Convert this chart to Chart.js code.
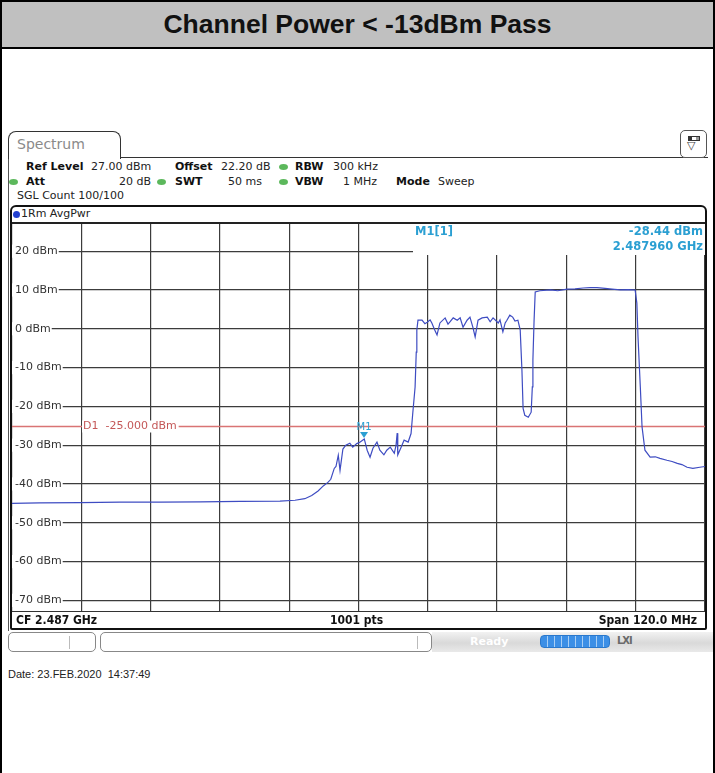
<!DOCTYPE html>
<html>
<head>
<meta charset="utf-8">
<title>Channel Power</title>
<script src="https://cdn.jsdelivr.net/npm/chart.js@4.4.1/dist/chart.umd.min.js"></script>
<style>
  body { margin: 0; width: 715px; height: 773px; background: #fff; position: relative; overflow: hidden;
         font-family: "DejaVu Sans", sans-serif; font-size: 11px; color: #222; }
  div, span { position: absolute; box-sizing: border-box; }
  #page { left: 0; top: 0; width: 715px; height: 773px; border-left: 2px solid #000; border-right: 2px solid #000; }
  #title { left: 0; top: 0; width: 715px; height: 49px; background: #c0c0c0; border: 2px solid #000;
           font: bold 26.5px "Liberation Sans", Arial, sans-serif; color: #111; text-align: center; line-height: 44px; }
  #tab { left: 8px; top: 131px; width: 113px; height: 28px; background: #fff; border: 1.5px solid #333;
         border-bottom: none; border-radius: 8px 8px 0 0; z-index: 2; }
  #tab span { left: 8px; top: 4px; font-size: 14px; color: #8a8a8a; }
  #tabline { left: 120px; top: 157px; width: 588px; height: 0; border-top: 1.5px solid #333; }
  #winleft { left: 8px; top: 157px; width: 0; height: 474px; border-left: 1.5px solid #555; }
  #icon { left: 680px; top: 130px; width: 27px; height: 28px; border: 1.5px solid #555; border-radius: 5px; background: #fff; }
  #icon .bar { left: 7px; top: 5px; width: 12px; height: 5px; border: 1px solid #333; background: #fff;
               box-shadow: inset 3px 0 0 #333, inset -3px 0 0 #999; }
  #icon .tri { left: 6px; top: 8px; font-size: 11px; color: #444; }
  .row { line-height: 13px; white-space: nowrap; }
  .b { font-weight: bold; color: #111; }
  .dot { width: 9px; height: 6px; border-radius: 50%; background: #5cb85c; }
  #frame { left: 10px; top: 205px; width: 697px; height: 425px; border: 2px solid #111; border-radius: 6px 6px 2px 2px; }
  #trhead { left: 12px; top: 222px; width: 693px; height: 0; border-top: 2px solid #222; }
  #bluedot { left: 13px; top: 211px; width: 7px; height: 7px; border-radius: 50%; background: #2340d0; }
  #chartbox { left: 12px; top: 224px; width: 693px; height: 388px; }
  #botline { left: 12px; top: 611px; width: 693px; height: 0; border-top: 1px solid #333; }
  .bot { top: 613px; font: bold 12px "DejaVu Sans Condensed", "DejaVu Sans", sans-serif; font-stretch: condensed;
         line-height: 15px; color: #111; white-space: nowrap; }
  .sbox { top: 632px; height: 20px; border: 1px solid #888; border-radius: 5px; background: #fff; }
  .sdiv { top: 3px; width: 0; height: 13px; border-left: 1px solid #bbb; }
  #sgray { left: 432px; top: 632px; width: 281px; height: 20px;
           background: linear-gradient(#f2f2f2, #d9d9d9 55%, #e9e9e9); }
  #sgray .ready { left: 38px; top: 3px; font-weight: bold; color: #fff; font-size: 11px; }
  #sblue { left: 540px; top: 635px; width: 70px; height: 13px; border-radius: 4px;
           background: repeating-linear-gradient(90deg, #3c8fe6 0 6px, #a9cff5 6px 7px); border: 1px solid #2a78cc; }
  #sicon { left: 617px; top: 635px; font: bold 10px "DejaVu Sans", sans-serif; color: #6a6a6a; letter-spacing: -1px; }
  #date { left: 8px; top: 668px; font: 11px "Liberation Sans", Arial, sans-serif; color: #222; white-space: pre; }
</style>
</head>
<body>
<div id="page"></div>
<div id="title">Channel Power &lt; -13dBm Pass</div>

<div id="winleft"></div>
<div id="tabline"></div>
<div id="tab"><span>Spectrum</span></div>
<div id="icon"><div class="bar"></div><span class="tri">▽</span></div>

<span class="row b" style="left:26px; top:160px;">Ref Level</span>
<span class="row" style="left:91px; top:160px;">27.00 dBm</span>
<span class="row b" style="left:175px; top:160px;">Offset</span>
<span class="row" style="left:221px; top:160px;">22.20 dB</span>
<span class="dot" style="left:279px; top:164px;"></span>
<span class="row b" style="left:295px; top:160px;">RBW</span>
<span class="row" style="left:333px; top:160px;">300 kHz</span>

<span class="dot" style="left:9px; top:179px;"></span>
<span class="row b" style="left:26px; top:175px;">Att</span>
<span class="row" style="right:564px; top:175px;">20 dB</span>
<span class="dot" style="left:157px; top:179px;"></span>
<span class="row b" style="left:175px; top:175px;">SWT</span>
<span class="row" style="right:453px; top:175px;">50 ms</span>
<span class="dot" style="left:279px; top:179px;"></span>
<span class="row b" style="left:295px; top:175px;">VBW</span>
<span class="row" style="right:338px; top:175px;">1 MHz</span>
<span class="row b" style="left:396px; top:175px;">Mode</span>
<span class="row" style="left:438px; top:175px;">Sweep</span>

<span class="row" style="left:17px; top:189px;">SGL Count 100/100</span>

<div id="frame"></div>
<div id="bluedot"></div>
<span class="row" style="left:21px; top:207px;">1Rm AvgPwr</span>
<div id="trhead"></div>
<div id="chartbox"><canvas id="chart"></canvas></div>
<div id="botline"></div>
<span class="bot" style="left:16px;">CF 2.487 GHz</span>
<span class="bot" style="left:330px;">1001 pts</span>
<span class="bot" style="right:18px;">Span 120.0 MHz</span>

<div class="sbox" style="left:8px; width:88px;"><div class="sdiv" style="left:60px;"></div></div>
<div class="sbox" style="left:100px; width:332px;"><div class="sdiv" style="left:316px;"></div></div>
<div id="sgray"><span class="ready">Ready</span></div>
<div id="sblue"></div>
<span id="sicon">LXI</span>

<div id="date">Date: 23.FEB.2020  14:37:49</div>

<script>
// trace (frequency in MHz, level in dBm)
const freqMHz = [
  2427.0, 2431.8, 2438.8, 2445.7, 2452.6, 2459.6, 2466.5, 2473.4, 2476.0, 2477.7,
  2478.9, 2480.0, 2480.9, 2481.7, 2482.2, 2482.8, 2483.1, 2483.5, 2483.8, 2484.3,
  2484.8, 2485.5, 2486.0, 2486.7, 2487.3, 2488.0, 2488.5, 2489.0, 2489.5, 2490.2,
  2490.7, 2491.4, 2491.9, 2492.5, 2493.2, 2493.5, 2493.7, 2493.8, 2494.4, 2494.9,
  2495.6, 2496.1, 2496.4, 2496.8, 2497.0, 2497.1, 2497.3, 2498.0, 2498.5, 2498.9,
  2499.4, 2499.7, 2500.2, 2500.6, 2501.1, 2502.0, 2502.5, 2502.8, 2503.4, 2504.1,
  2504.6, 2505.1, 2505.8, 2506.3, 2506.8, 2507.2, 2507.7, 2508.4, 2509.3, 2509.8,
  2510.3, 2511.2, 2511.5, 2511.8, 2512.0, 2512.4, 2512.7, 2513.2, 2513.7, 2514.1,
  2514.6, 2515.0, 2515.3, 2515.5, 2515.8, 2516.4, 2516.9, 2517.1, 2517.2, 2517.4,
  2517.6, 2518.4, 2520.2, 2521.5, 2523.1, 2524.5, 2525.9, 2527.1, 2528.3, 2529.7,
  2530.9, 2532.3, 2533.7, 2534.9, 2535.2, 2535.4, 2535.8, 2536.1, 2536.6, 2537.5,
  2538.4, 2539.2, 2540.4, 2541.3, 2542.2, 2543.0, 2543.9, 2544.9, 2546.1, 2547.0
];
const levelDbm = [
  -45.0, -44.9, -44.8, -44.7, -44.7, -44.6, -44.5, -44.4, -44.2, -43.8,
  -43.0, -41.8, -40.5, -39.6, -38.8, -36.0, -35.5, -32.6, -36.5, -31.0,
  -30.0, -29.5, -30.5, -29.6, -29.2, -28.4, -31.3, -33.1, -30.8, -29.2,
  -31.3, -32.5, -31.3, -30.5, -32.1, -30.0, -26.9, -32.5, -30.5, -28.7,
  -29.2, -27.0, -21.7, -15.0, -6.0, -0.3, 2.2, 2.2, 1.3, 1.7,
  2.3, 1.5, -0.3, -1.6, 1.5, 2.8, 1.2, 1.7, 2.8, 2.2,
  2.8, 0.4, 2.2, 3.0, 0.4, -2.1, 2.2, 2.8, 3.0, 1.8,
  2.8, 1.5, 2.3, 0.4, -0.8, 1.5, 2.2, 3.5, 3.0, 2.0,
  2.2, -0.3, -10.7, -20.5, -22.3, -22.8, -21.5, -15.0, -8.0, 2.0,
  9.5, 9.8, 10.0, 9.8, 10.2, 10.3, 10.5, 10.6, 10.6, 10.4,
  10.2, 10.0, 10.1, 10.0, 6.6, -2.1, -15.0, -25.3, -31.3, -33.1,
  -33.0, -33.4, -33.9, -34.2, -34.7, -35.0, -35.7, -36.0, -35.7, -35.5
];

// axes: CF 2.487 GHz, span 120 MHz, ref level 27 dBm, 10 dB/div
const xMin = 2427;
const xMax = 2547;
const xTicks = [2427, 2439, 2451, 2463, 2475, 2487, 2499, 2511, 2523, 2535, 2547];
const yMin = -73;
const yMax = 27;
const yTicks = [20, 10, 0, -10, -20, -30, -40, -50, -60, -70];

// display line and marker
const d1Level = -25;
const d1Label = "D1  -25.000 dBm";
const m1Freq = 2487.96;
const m1Level = -28.44;
const m1Readout = ["M1[1]", "-28.44 dBm", "2.487960 GHz"];

const markerColor = "#2b9fd2";

const overlay = {
  id: "overlay",
  beforeDatasetsDraw(chart) {
    const { ctx, chartArea, scales } = chart;
    ctx.save();
    // marker readout area hides the grid below it
    ctx.fillStyle = "#fff";
    ctx.fillRect(chartArea.right - 292, chartArea.top, 292, 31);

    // D1 display line
    const dy = Math.round(scales.y.getPixelForValue(d1Level)) + 0.5;
    ctx.strokeStyle = "#d97474";
    ctx.lineWidth = 1.5;
    ctx.beginPath();
    ctx.moveTo(chartArea.left, dy);
    ctx.lineTo(chartArea.right, dy);
    ctx.stroke();
    ctx.font = "11px 'DejaVu Sans'";
    const w = ctx.measureText(d1Label).width;
    ctx.fillStyle = "#fff";
    ctx.fillRect(chartArea.left + 70, dy - 6, w + 3, 12);
    ctx.fillStyle = "#c45858";
    ctx.textBaseline = "middle";
    ctx.fillText(d1Label, chartArea.left + 71, dy);
    ctx.restore();
  },
  afterDatasetsDraw(chart) {
    const { ctx, chartArea, scales } = chart;
    ctx.save();
    const mx = scales.x.getPixelForValue(m1Freq);
    const my = scales.y.getPixelForValue(m1Level);
    ctx.fillStyle = markerColor;
    ctx.beginPath();
    ctx.moveTo(mx - 4, my - 7);
    ctx.lineTo(mx + 4, my - 7);
    ctx.lineTo(mx, my - 1);
    ctx.closePath();
    ctx.fill();
    ctx.font = "10px 'DejaVu Sans'";
    ctx.textAlign = "center";
    ctx.textBaseline = "middle";
    ctx.fillText("M1", mx, my - 12);

    ctx.font = "bold 11.5px 'DejaVu Sans'";
    ctx.textAlign = "left";
    ctx.fillText(m1Readout[0], chartArea.right - 290, chartArea.top + 8);
    ctx.textAlign = "right";
    ctx.fillText(m1Readout[1], chartArea.right - 2, chartArea.top + 8);
    ctx.fillText(m1Readout[2], chartArea.right - 2, chartArea.top + 23);
    ctx.restore();
  },
};

document.addEventListener("DOMContentLoaded", () => {
  const ctx = document.getElementById("chart").getContext("2d");
  new Chart(ctx, {
    type: "line",
    data: {
      datasets: [
        {
          label: "1Rm AvgPwr",
          data: freqMHz.map((f, i) => ({ x: f, y: levelDbm[i] })),
          borderColor: "#3e4cc2",
          borderWidth: 1.2,
          pointRadius: 0,
          tension: 0,
        },
      ],
    },
    options: {
      responsive: true,
      maintainAspectRatio: false,
      animation: false,
      layout: { padding: 0 },
      plugins: {
        legend: { display: false },
        tooltip: { enabled: false },
      },
      scales: {
        x: {
          type: "linear",
          min: xMin,
          max: xMax,
          afterBuildTicks: (s) => { s.ticks = xTicks.map((v) => ({ value: v })); },
          afterFit: (s) => { s.height = 0; s.paddingLeft = 0; s.paddingRight = 0; },
          ticks: { display: false },
          grid: { color: "#3c3c3c", lineWidth: 1.2, drawTicks: false },
          border: { display: false },
        },
        y: {
          min: yMin,
          max: yMax,
          afterBuildTicks: (s) => { s.ticks = yTicks.map((v) => ({ value: v })); },
          afterFit: (s) => { s.width = 0; s.paddingTop = 0; s.paddingBottom = 0; },
          ticks: {
            mirror: true,
            padding: 3,
            color: "#333",
            font: { family: "DejaVu Sans", size: 11 },
            showLabelBackdrop: true,
            backdropColor: "#fff",
            backdropPadding: { left: 3, right: 1, top: 0, bottom: 0 },
            callback: (v) => v + " dBm",
          },
          grid: { color: "#3c3c3c", lineWidth: 1.2, drawTicks: false },
          border: { display: false },
        },
      },
    },
    plugins: [overlay],
  });
});
</script>
</body>
</html>
